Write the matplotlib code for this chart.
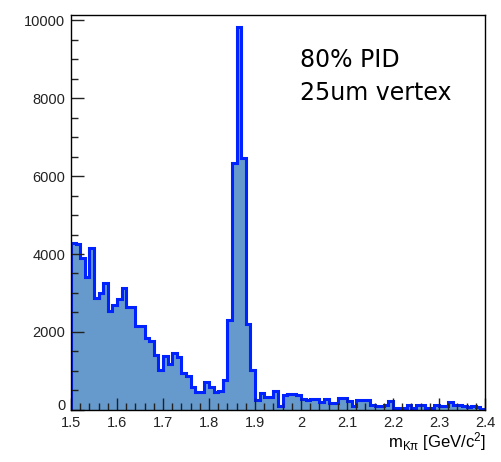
import numpy as np
import matplotlib
matplotlib.use("Agg")
import matplotlib.pyplot as plt
from matplotlib.ticker import MultipleLocator
from matplotlib.transforms import ScaledTranslation

# invariant mass histogram, 90 bins of 0.01 GeV from 1.5 to 2.4
bin_lo = 1.5
bin_hi = 2.4
counts = [
    4290, 4250, 3900, 3420, 4160, 2860, 2990, 3260, 2540, 2690,
    2840, 3120, 2650, 2650, 2150, 2150, 1840, 1770, 1410, 1030,
    1390, 1180, 1470, 1370, 940, 870, 600, 470, 470, 730,
    600, 470, 480, 770, 2300, 6330, 9830, 6450, 2200, 1030,
    256, 430, 340, 340, 480, 100, 380, 400, 400, 390,
    280, 260, 280, 270, 210, 280, 170, 170, 300, 300,
    220, 90, 260, 260, 250, 120, 110, 110, 120, 230,
    60, 50, 40, 130, 60, 130, 120, 60, 60, 130,
    100, 100, 210, 120, 130, 110, 70, 100, 70, 30,
]
x_ticks = [1.5, 1.6, 1.7, 1.8, 1.9, 2.0, 2.1, 2.2, 2.3, 2.4]
x_tick_labels = ["1.5", "1.6", "1.7", "1.8", "1.9", "2", "2.1", "2.2", "2.3", "2.4"]
y_ticks = [0, 2000, 4000, 6000, 8000, 10000]
note_lines = ["80% PID", "25um vertex"]

plt.rcParams['font.family'] = ['Liberation Sans', 'DejaVu Sans']
plt.rcParams['mathtext.fontset'] = 'custom'
plt.rcParams['mathtext.rm'] = 'Liberation Sans'
plt.rcParams['mathtext.it'] = 'Liberation Sans:italic'

edges = np.linspace(bin_lo, bin_hi, len(counts) + 1)

fig = plt.figure(figsize=(5.02, 4.62), dpi=100)
ax = fig.add_axes([0.1414, 0.1126, 0.8247, 0.855])

ax.stairs(counts, edges, fill=True, color='#6699cc', baseline=0)
ax.stairs(counts, edges, color='#0022ff', linewidth=2.2, baseline=0)

ax.set_xlim(bin_lo, bin_hi)
ax.set_ylim(0, 10130)

ax.set_xticks(x_ticks)
ax.set_xticklabels(x_tick_labels)
ax.set_yticks(y_ticks)
ax.xaxis.set_minor_locator(MultipleLocator(0.02))
ax.yaxis.set_minor_locator(MultipleLocator(500))

ax.tick_params(which='both', direction='in', top=False, right=False,
               labelsize=10.5, width=1.0, colors='#222222')
ax.tick_params(which='major', length=9)
ax.tick_params(which='minor', length=5)
ax.tick_params(axis='x', pad=4)
ax.tick_params(axis='y', pad=4)

# lift the "0" a little so it sits just above the "1.5"
zero_lab = ax.get_yticklabels()[0]
zero_lab.set_transform(zero_lab.get_transform() + ScaledTranslation(0, 0.05, fig.dpi_scale_trans))

for s in ax.spines.values():
    s.set_linewidth(1.0)
    s.set_color('black')

fig.text(0.968, 0.045, r"m$_{\mathrm{K\pi}}$ [GeV/c$^{2}$]", ha='right', va='center', fontsize=12)

ax.text(0.553, 0.886, note_lines[0], transform=ax.transAxes, fontsize=17,
        family='DejaVu Sans', va='center', ha='left')
ax.text(0.553, 0.8025, note_lines[1], transform=ax.transAxes, fontsize=17,
        family='DejaVu Sans', va='center', ha='left')

fig.savefig("out.png", dpi=100)
